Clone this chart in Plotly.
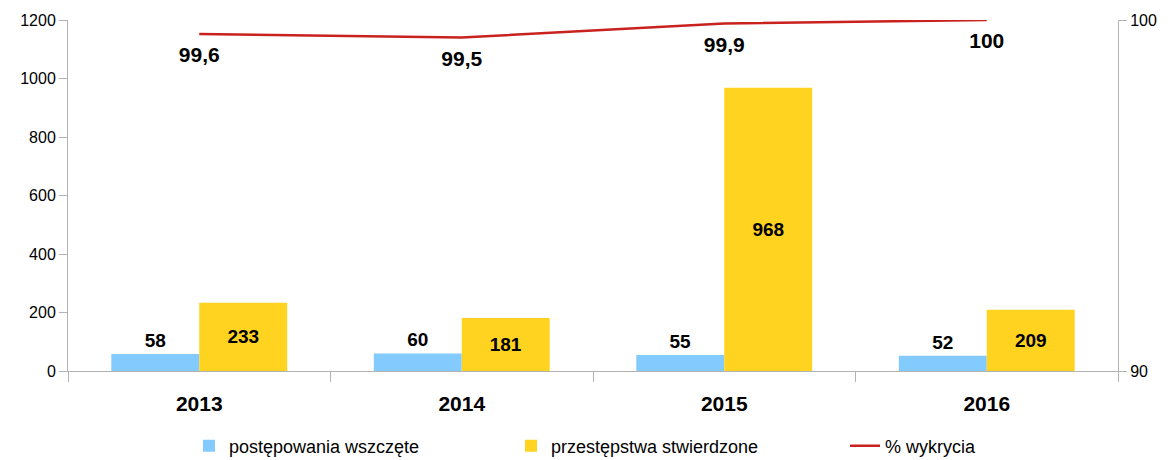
import plotly.graph_objects as go

years = ["2013", "2014", "2015", "2016"]
wszczete = [58, 60, 55, 52]
stwierdzone = [233, 181, 968, 209]
wykrycia = [99.6, 99.5, 99.9, 100]
wykrycia_txt = [("%g" % v).replace(".", ",") for v in wykrycia]

FONT = "Liberation Sans, Arial, sans-serif"
AX = "#b3b3b3"
W, H = 1166, 452

fig = go.Figure()
fig.add_trace(go.Bar(
    x=years, y=wszczete, name="postępowania wszczęte", legend="legend",
    marker=dict(color="#83CAFF", line=dict(width=0)),
    text=[str(v) for v in wszczete], textposition="outside",
    textfont=dict(family=FONT, size=19, color="black", weight="bold"),
    cliponaxis=False,
))
fig.add_trace(go.Bar(
    x=years, y=stwierdzone, name="przestępstwa stwierdzone", legend="legend2",
    marker=dict(color="#FFD320", line=dict(width=0)),
    text=[str(v) for v in stwierdzone], textposition="inside",
    insidetextanchor="middle", textangle=0,
    textfont=dict(family=FONT, size=19, color="black", weight="bold"),
))
fig.add_trace(go.Scatter(
    x=years, y=wykrycia, name="% wykrycia", yaxis="y2", legend="legend3",
    mode="lines+markers+text", line=dict(color="#C9211E", width=2.5),
    marker=dict(size=18, color="rgba(0,0,0,0)"),
    text=wykrycia_txt, textposition="bottom center",
    textfont=dict(family=FONT, size=21, color="black", weight="bold"),
    cliponaxis=False,
))

leg = dict(orientation="h", yref="container", y=14 / H, yanchor="middle",
           xref="container", xanchor="left", font=dict(size=18),
           bgcolor="rgba(0,0,0,0)")

fig.update_layout(
    width=W, height=H,
    margin=dict(l=60, r=56, t=12, b=89, autoexpand=False),
    paper_bgcolor="white", plot_bgcolor="white",
    font=dict(family=FONT, size=16, color="black"),
    barmode="group", bargap=0.33, bargroupgap=0,
    showlegend=True,
    legend=dict(leg, x=181 / W),
    legend2=dict(leg, x=503 / W),
    legend3=dict(leg, x=837 / W),
    xaxis=dict(
        type="category", tickson="boundaries", ticks="outside", ticklen=10,
        tickcolor=AX, showline=True, linecolor=AX, linewidth=1,
        showgrid=False, zeroline=False, automargin=False,
        ticklabelstandoff=14,
        tickfont=dict(size=21, weight="bold"),
    ),
    yaxis=dict(
        range=[0, 1200], tickvals=[0, 200, 400, 600, 800, 1000, 1200],
        ticks="outside", ticklen=8, tickcolor=AX, showline=True, linecolor=AX,
        showgrid=False, zeroline=False, automargin=False, tickfont=dict(size=16),
    ),
    yaxis2=dict(
        range=[90, 100], tickvals=[90, 100], overlaying="y", side="right",
        ticks="outside", ticklen=8, tickcolor=AX, showline=True, linecolor=AX,
        showgrid=False, zeroline=False, automargin=False, tickfont=dict(size=16),
    ),
)

fig.write_html("out.html")
